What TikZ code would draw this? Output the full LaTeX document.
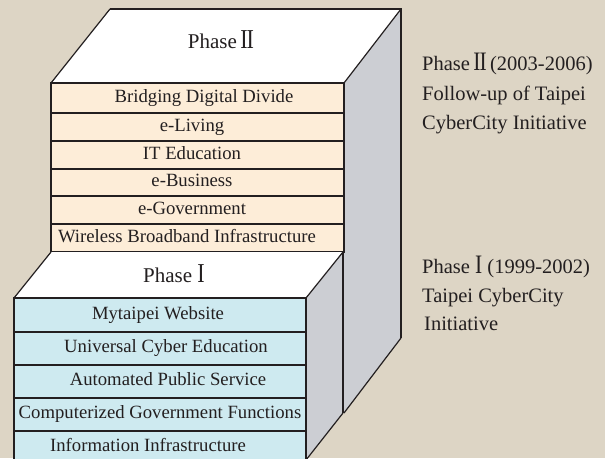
\documentclass[tikz,border=0pt]{standalone}
\usepackage{fontspec}
\usepackage{graphicx}
\setmainfont{Liberation Serif}
\definecolor{bg}{RGB}{221,213,197}
\definecolor{peach}{RGB}{253,237,216}
\definecolor{cyber}{RGB}{206,234,240}
\definecolor{side}{RGB}{204,206,211}
\definecolor{ink}{RGB}{35,31,32}
\newcommand\bigroman[1]{\scalebox{1.05}[1.3]{#1}}
\begin{document}
\begin{tikzpicture}[x=1pt,y=-1pt,
  outline/.style={draw=ink,line width=1.8pt},
  slant/.style={draw=ink,line width=1.2pt},
  rowline/.style={draw=ink,line width=1.6pt},
  rowtext/.style={text=ink,inner sep=0pt,text height=0.66em,text depth=0pt,font=\fontsize{18.7}{20}\selectfont},
  phasetext/.style={text=ink,inner sep=0pt,anchor=base,font=\fontsize{21}{24}\selectfont},
  notetext/.style={text=ink,inner sep=0pt,anchor=base west,font=\fontsize{20.5}{24}\selectfont}]
\fill[bg] (0,0) rectangle (605,458);
\useasboundingbox (0,0) rectangle (605,458);
% Phase II block
\fill[side] (344,83) -- (401,9) -- (401,338) -- (344,413) -- cycle;
\fill[white] (51,83) -- (110,9) -- (401,9) -- (344,83) -- cycle;
\draw[slant] (51,83) -- (110,9) (344,83) -- (401,9) (401,338) -- (344,413);
\draw[outline] (110,9) -- (401,9) -- (401,338);
\foreach \top/\bot/\cx/\item [count=\i] in {83/113/204/Bridging Digital Divide, 113/141/192/e-Living, 141/169/192/IT Education, 169/196/192/e-Business, 196/224/192/e-Government, 224/252/187/Wireless Broadband Infrastructure} {
  \filldraw[fill=peach, rowline] (51,\top) rectangle (344,\bot);
  \node[rowtext] (up\i) at (\cx,{(\top+\bot)/2+1}) {\item};
}
\draw[outline] (51,83) rectangle (344,252);
\node[phasetext] (phtwo) at (221,48) {Phase\,\bigroman{I\kern-.05em I}};
% Phase I block
\fill[side] (306,298) -- (343,252) -- (343,413) -- (306,460) -- cycle;
\fill[white] (14,298) -- (51,252) -- (343,252) -- (306,298) -- cycle;
\draw[slant] (14,298) -- (51,252) (306,298) -- (343,252) (343,413) -- (306,460);
\draw[outline] (343,252) -- (343,413);
\foreach \top/\bot/\cx/\item [count=\i] in {298/332/158/Mytaipei Website, 332/365/166/Universal Cyber Education, 365/398/168/Automated Public Service, 398/431/160/Computerized Government Functions, 431/464/148/Information Infrastructure} {
  \filldraw[fill=cyber, rowline] (14,\top) rectangle (306,\bot);
  \node[rowtext] (low\i) at (\cx,{(\top+\bot)/2+1}) {\item};
}
\draw[outline] (14,464) -- (14,298) -- (306,298) -- (306,464);
\node[phasetext] (phone) at (174,282) {Phase \bigroman{I}};
% notes
\node[notetext] (notetwoa) at (422,70) {Phase\,\bigroman{I\kern-.05em I}\,(2003-2006)};
\node[notetext] (notetwob) at (422,100) {Follow-up of Taipei};
\node[notetext] (notetwoc) at (422,129) {CyberCity Initiative};
\node[notetext] (noteonea) at (422,273) {Phase \bigroman{I} (1999-2002)};
\node[notetext] (noteoneb) at (422,302) {Taipei CyberCity};
\node[notetext] (noteonec) at (424,330) {Initiative};
\end{tikzpicture}
\end{document}
